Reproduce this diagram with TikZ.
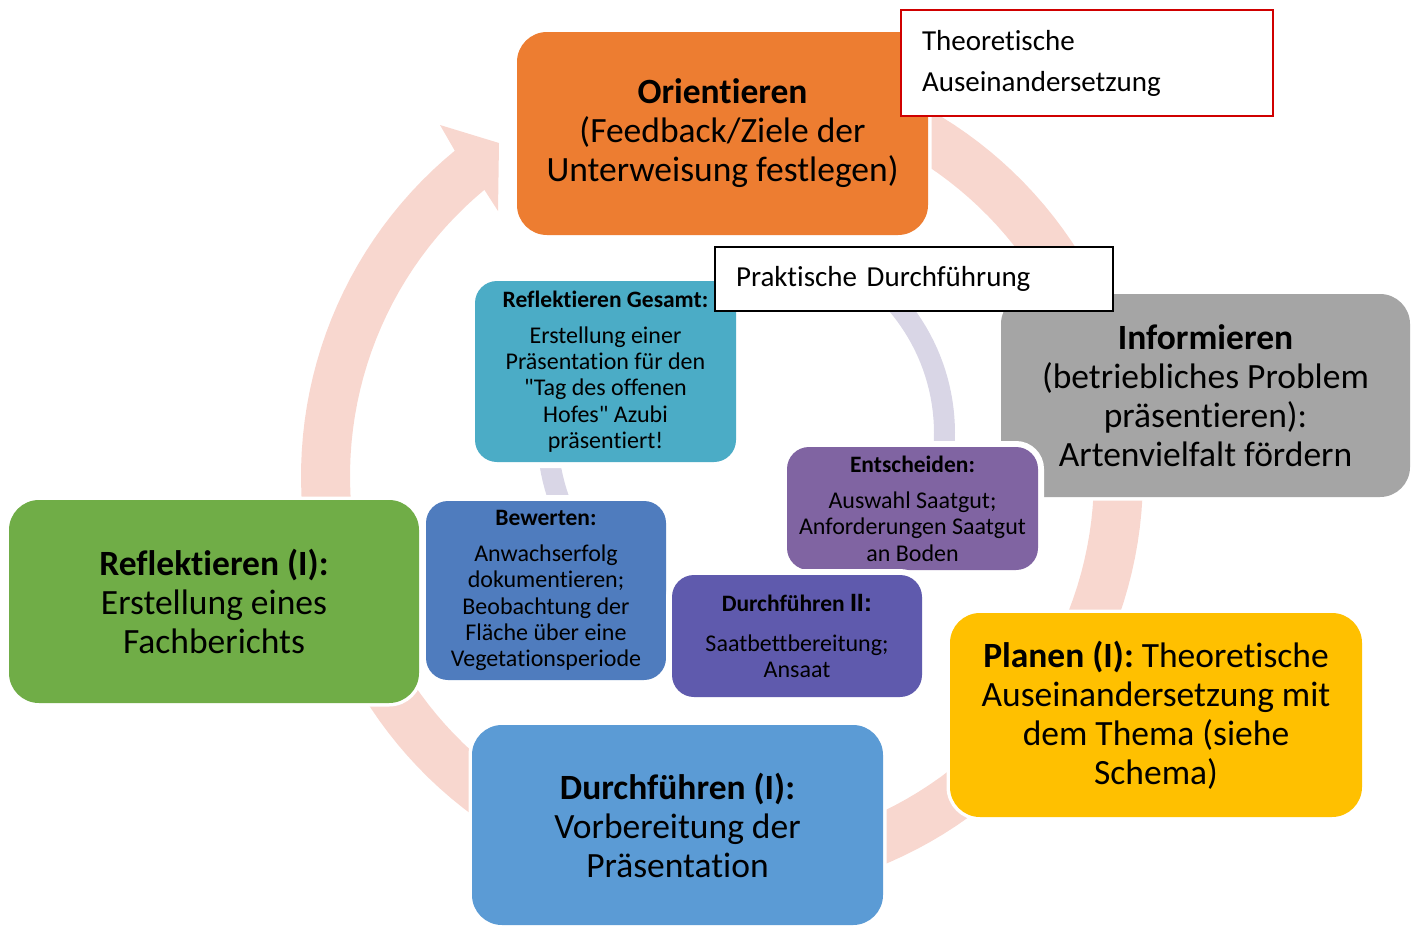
\documentclass[tikz,border=0pt]{standalone}
\usepackage{fontspec}
\setmainfont{Carlito}[Ligatures=CommonOff]
\newfontfamily\arialfont{Liberation Sans}
\newfontfamily\qfont{Carlito}[Ligatures={TeXOff,CommonOff}]
\definecolor{cOrange}{HTML}{ED7D31}
\definecolor{cGrey}{HTML}{A5A5A5}
\definecolor{cYellow}{HTML}{FFC000}
\definecolor{cBlue}{HTML}{5B9BD5}
\definecolor{cGreen}{HTML}{70AD47}
\definecolor{cTeal}{HTML}{4BACC6}
\definecolor{cBewerten}{HTML}{4F7CBE}
\definecolor{cEntscheiden}{HTML}{8064A2}
\definecolor{cDurch}{HTML}{5F5AAD}
\definecolor{cPink}{HTML}{F8D7CF}
\definecolor{cLav}{HTML}{D9D6E6}
\definecolor{cRed}{HTML}{D00000}
\tikzset{
  bigbox/.style={rounded corners=30pt, preaction={draw=white,line width=7pt},
    align=center, inner sep=0pt, font=\fontsize{35.5}{39}\selectfont,
    minimum width=#1},
  smallbox/.style={rounded corners=22pt, preaction={draw=white,line width=12pt},
    align=center, inner sep=0pt, font=\fontsize{24}{26.3}\selectfont,
    minimum width=#1},
  labelbox/.style={fill=white, align=left, inner ysep=0pt, inner xsep=21pt,
    font=\fontsize{29}{41}\selectfont, text width=#1},
}
\newcommand{\hd}[1]{{\bfseries\fontsize{23.5}{26}\selectfont #1}\\[10pt]}
\newcommand{\dq}{{\qfont\symbol{"22}}}
\begin{document}
\begin{tikzpicture}[x=1pt,y=-1pt]
\useasboundingbox (0,0) rectangle (1417,927);
% outer circular arrow
\fill[cPink] plot[domain=-75:230.6, samples=150] ({722+421*cos(\x)},{476+421*sin(\x)})
  -- (440,125) -- (499,143) -- (498,211)
  -- plot[domain=230.3:-75, samples=150] ({722+372*cos(\x)},{476+372*sin(\x)}) -- cycle;
% inner ring
\fill[cLav] plot[domain=-63:195, samples=120] ({746+209*cos(\x)},{433+209*sin(\x)})
  -- plot[domain=195:-63, samples=120] ({746+188*cos(\x)},{433+188*sin(\x)}) -- cycle;
% big boxes
\node[bigbox=411pt, minimum height=203pt, fill=cOrange] (orient) at (722.5,133.5)
  {\textbf{Orientieren}\\(Feedback/Ziele der\\Unterweisung festlegen)};
\node[bigbox=409pt, minimum height=203pt, fill=cGrey] (inform) at (1205.5,395.5)
  {\textbf{Informieren}\\(betriebliches Problem\\präsentieren):\\Artenvielfalt fördern};
\node[bigbox=412pt, minimum height=204pt, fill=cYellow] (planen) at (1156,715)
  {\textbf{Planen (I):} Theoretische\\Auseinandersetzung mit\\dem Thema (siehe\\Schema)};
\node[bigbox=411pt, minimum height=200pt, fill=cBlue] (durch1) at (677.5,825)
  {\textbf{Durchführen (I):}\\Vorbereitung der\\Präsentation};
\node[bigbox=410pt, minimum height=203pt, fill=cGreen] (refl1) at (214,601.5)
  {\textbf{Reflektieren (I):}\\Erstellung eines\\Fachberichts};
% small boxes
\node[smallbox=261pt, minimum height=181pt, fill=cTeal] (reflg) at (605.5,371.5)
  {\hd{Reflektieren Gesamt:}Erstellung einer\\Präsentation für den\\\dq Tag des offenen\\Hofes\dq{} Azubi\\präsentiert!};
\node[smallbox=240pt, minimum height=179pt, fill=cBewerten] (bewerten) at (546,590.5)
  {\hd{Bewerten:}Anwachserfolg\\dokumentieren;\\Beobachtung der\\Fläche über eine\\Vegetationsperiode};
\node[smallbox=251pt, minimum height=123pt, fill=cEntscheiden] (entsch) at (912.5,508.5)
  {\hd{Entscheiden:}Auswahl Saatgut;\\Anforderungen Saatgut\\an Boden};
\node[smallbox=250pt, minimum height=122pt, fill=cDurch] (durch2) at (797,636)
  {{\bfseries\fontsize{23.5}{26}\selectfont Durchführen {\arialfont\fontsize{25}{26}\selectfont II:}}\\[13pt]Saatbettbereitung;\\Ansaat};
% label boxes
\node[labelbox=330pt, minimum height=106pt, draw=cRed, line width=1.3pt] (theo) at (1087,63)
  {Theoretische\\Auseinandersetzung};
\node[labelbox=356pt, minimum height=64pt, draw=black, line width=1.2pt] (prakt) at (914,279)
  {Praktische Durchführung};
\end{tikzpicture}
\end{document}
